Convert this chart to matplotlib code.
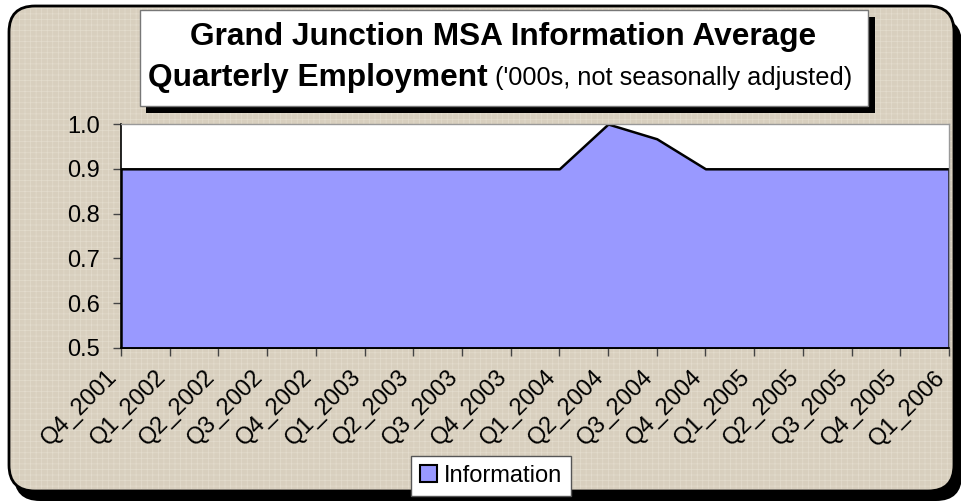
import numpy as np
import matplotlib
matplotlib.use('Agg')
import matplotlib.pyplot as plt
from matplotlib.patches import FancyBboxPatch, Rectangle, Patch
from matplotlib.transforms import IdentityTransform, ScaledTranslation

plt.rcParams['font.family'] = ['Liberation Sans', 'DejaVu Sans']

quarters = ['Q4_2001', 'Q1_2002', 'Q2_2002', 'Q3_2002', 'Q4_2002', 'Q1_2003',
            'Q2_2003', 'Q3_2003', 'Q4_2003', 'Q1_2004', 'Q2_2004', 'Q3_2004',
            'Q4_2004', 'Q1_2005', 'Q2_2005', 'Q3_2005', 'Q4_2005', 'Q1_2006']
information = [0.9, 0.9, 0.9, 0.9, 0.9, 0.9, 0.9, 0.9, 0.9, 0.9,
               1.0, 0.967, 0.9, 0.9, 0.9, 0.9, 0.9, 0.9]
y_ticks = [0.5, 0.6, 0.7, 0.8, 0.9, 1.0]

W, H = 962, 501
fig = plt.figure(figsize=(W / 100, H / 100), dpi=100)
fig.patch.set_facecolor('white')

px = IdentityTransform()
# outer frame with shadow
fig.patches.append(FancyBboxPatch((14, 0), 948, 483, boxstyle='round,pad=0,rounding_size=26',
                                  transform=px, facecolor='black', edgecolor='none', zorder=0))
fig.patches.append(FancyBboxPatch((9, 10), 945, 485, boxstyle='round,pad=0,rounding_size=26',
                                  transform=px, facecolor='#d8cfbe', edgecolor='black',
                                  linewidth=2, zorder=1))
plt.rcParams['hatch.linewidth'] = 0.5
fig.patches.append(FancyBboxPatch((11, 12), 941, 481, boxstyle='round,pad=0,rounding_size=24',
                                  transform=px, facecolor='none', edgecolor='#e3dccd',
                                  linewidth=0, hatch='+++', zorder=1.5))

# title box with shadow
fig.patches.append(Rectangle((146, H - 113), 729, 96, transform=px,
                             facecolor='black', edgecolor='none', zorder=2))
fig.patches.append(Rectangle((140, H - 106), 728, 96, transform=px,
                             facecolor='white', edgecolor='#777777', linewidth=1, zorder=3))

fig.text(503 / W, 1 - 37 / H, 'Grand Junction MSA Information Average', ha='center', va='center',
         fontsize=22.8, fontweight='bold', zorder=4)
t1 = fig.text(148 / W, 1 - 78 / H, 'Quarterly Employment', ha='left', va='center',
              fontsize=22.8, fontweight='bold', zorder=4)
fig.canvas.draw()
bb = t1.get_window_extent()
fig.text((bb.x1 + 7) / W, 1 - 78 / H, "('000s, not seasonally adjusted)", ha='left', va='center',
         fontsize=18.3, zorder=4)

ax = fig.add_axes([121 / W, 1 - 348 / H, 828 / W, 224 / H])
ax.set_zorder(5)
ax.set_facecolor('white')
x = np.arange(len(quarters))
ax.fill_between(x, y_ticks[0], information, facecolor='#9999ff', edgecolor='black',
                linewidth=1.8, label='Information')
ax.set_xlim(0, len(quarters) - 1)
ax.set_ylim(0.5, 1.0)
ax.set_yticks(y_ticks)
ax.set_yticklabels(['%.1f' % v for v in y_ticks])
ax.set_xticks(x)
ax.set_xticklabels(quarters, rotation=45, ha='right', va='center', rotation_mode='anchor')
ax.tick_params(axis='both', direction='out', length=6, width=1, labelsize=17, color='#444444')
ax.tick_params(axis='x', pad=12)
ax.tick_params(axis='y', pad=9)
shift = ScaledTranslation(-7 / 100, -1 / 100, fig.dpi_scale_trans)
for lab in ax.get_xticklabels():
    lab.set_transform(lab.get_transform() + shift)
for s in ['top', 'right']:
    ax.spines[s].set_color('#999999')
    ax.spines[s].set_linewidth(1)
for s in ['left', 'bottom']:
    ax.spines[s].set_color('black')
    ax.spines[s].set_linewidth(1.2)

handle = Patch(facecolor='#9999ff', edgecolor='black', linewidth=1.5)
leg = fig.legend([handle], ['Information'], loc='center', bbox_to_anchor=(491 / W, 1 - 476 / H),
                 fontsize=17, frameon=True, fancybox=False, framealpha=1, edgecolor='#555555',
                 handlelength=0.7, handleheight=0.7, handletextpad=0.3, borderpad=0.4)
leg.get_frame().set_linewidth(1)
leg.set_zorder(6)

fig.savefig('out.png', dpi=100)
